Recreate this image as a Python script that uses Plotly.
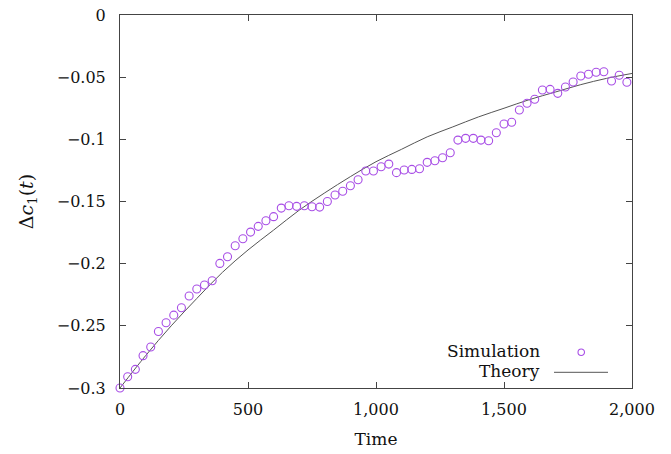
import plotly.graph_objects as go

# Simulation data (t = 0, 30, ..., 1980)
sim_t = list(range(0, 1981, 30))
sim_dc = [
    -0.300, -0.291, -0.285, -0.274, -0.267, -0.2545, -0.2475, -0.2414, -0.2355, -0.226,
    -0.2204, -0.2172, -0.2137, -0.1998, -0.1944, -0.1856, -0.180, -0.1746, -0.170, -0.1655,
    -0.1622, -0.1553, -0.1534, -0.1539, -0.1534, -0.1542, -0.1545, -0.150, -0.1448, -0.1418,
    -0.1373, -0.1325, -0.1255, -0.1255, -0.122, -0.1199, -0.1268, -0.1247, -0.1242, -0.1236,
    -0.1185, -0.1172, -0.1148, -0.1108, -0.1006, -0.0992, -0.0992, -0.1006, -0.1011, -0.0947,
    -0.0877, -0.0863, -0.0764, -0.071, -0.0678, -0.0603, -0.0598, -0.063, -0.0579, -0.0539,
    -0.0491, -0.0477, -0.0461, -0.0456, -0.0531, -0.0485, -0.0541,
]

# Theory curve
theory_t = [0, 100, 200, 300, 400, 500, 600, 700, 800, 900, 1000,
            1100, 1200, 1300, 1400, 1500, 1600, 1700, 1800, 1900, 2000]
theory_dc = [-0.300, -0.274, -0.250, -0.228, -0.207, -0.189, -0.173, -0.157, -0.143, -0.130, -0.118,
             -0.108, -0.098, -0.090, -0.082, -0.075, -0.068, -0.062, -0.056, -0.051, -0.047]

x_ticks = [0, 500, 1000, 1500, 2000]
x_tick_labels = ["0", "500", "1,000", "1,500", "2,000"]
y_ticks = [0, -0.05, -0.1, -0.15, -0.2, -0.25, -0.3]
y_tick_labels = ["0", "\u22120.05", "\u22120.1", "\u22120.15", "\u22120.2", "\u22120.25", "\u22120.3"]

FONT = "DejaVu Serif"
FS_TICK = 16
FS = 17
TXT = "#111111"
SIM_COLOR = "#a84ee6"
LINE_COLOR = "#555555"

fig = go.Figure()
fig.add_trace(go.Scatter(
    x=theory_t, y=theory_dc, mode="lines", line=dict(color=LINE_COLOR, width=1, shape="spline"),
    name="Theory", showlegend=False, cliponaxis=True,
))
fig.add_trace(go.Scatter(
    x=sim_t, y=sim_dc, mode="markers",
    marker=dict(symbol="circle-open", size=8, color=SIM_COLOR, line=dict(width=1.1, color=SIM_COLOR)),
    name="Simulation", showlegend=False, cliponaxis=False,
))

axis_common = dict(
    showgrid=False, zeroline=False, showline=True, mirror="allticks", automargin=False,
    linecolor="#444444", linewidth=1, ticks="inside", ticklen=6, tickcolor="#444444",
    tickfont=dict(family=FONT, size=FS_TICK, color=TXT), ticklabeloverflow="allow",
)

fig.update_xaxes(
    range=[0, 2000], tickvals=x_ticks, ticktext=x_tick_labels,
    title=dict(text="Time", font=dict(family=FONT, size=FS, color=TXT), standoff=14),
    ticklabelstandoff=7,
    **axis_common,
)
fig.update_yaxes(
    range=[-0.3, 0], tickvals=y_ticks, ticktext=y_tick_labels,
    title=dict(text="\u0394<i>c</i><sub>1</sub>(<i>t</i>)", font=dict(family=FONT, size=19, color=TXT), standoff=18),
    ticklabelstandoff=10,
    **axis_common,
)

# Page is offset by the 8px body margin: shrink figure accordingly
OFF = 8
W, H = 671 - OFF, 454 - OFF
L, R, T, B = 120 - OFF, 39, 15 - OFF, 66
pw, ph = W - L - R, H - T - B

def px(xp):
    return (xp - OFF - L) / pw

def py(yp):
    return (H - B - (yp - OFF)) / ph

fig.add_annotation(x=px(542), y=py(351), xref="paper", yref="paper", text="Simulation",
                   showarrow=False, xanchor="right", yanchor="middle",
                   font=dict(family=FONT, size=FS, color=TXT))
fig.add_annotation(x=px(542), y=py(371), xref="paper", yref="paper", text="Theory",
                   showarrow=False, xanchor="right", yanchor="middle",
                   font=dict(family=FONT, size=FS, color=TXT))
fig.add_shape(type="circle", xref="paper", yref="paper",
              x0=px(578), x1=px(584.5), y0=py(355.5), y1=py(349),
              line=dict(color=SIM_COLOR, width=1.1))
fig.add_shape(type="line", xref="paper", yref="paper",
              x0=px(554), x1=px(608), y0=py(372.3), y1=py(372.3),
              line=dict(color=LINE_COLOR, width=1))

fig.update_layout(
    width=W, height=H,
    margin=dict(l=L, r=R, t=T, b=B, pad=0),
    plot_bgcolor="white", paper_bgcolor="white",
    font=dict(family=FONT, color=TXT),
    showlegend=False,
)

fig.write_html("out.html")
